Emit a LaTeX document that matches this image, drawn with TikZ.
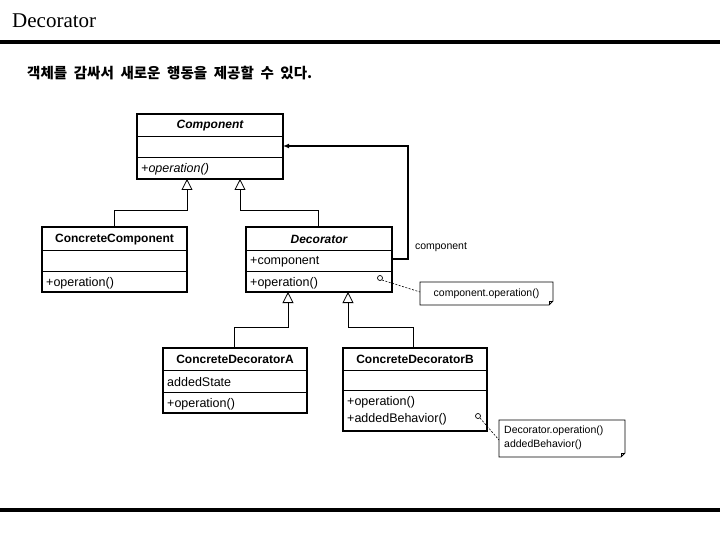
\documentclass[tikz,border=0pt]{standalone}
\usepackage{fontspec}
\setmainfont{Liberation Sans}
\newfontfamily\krfont{Noto Sans CJK KR}
\newfontfamily\titlefont{Liberation Serif}
\usetikzlibrary{arrows.meta}
\begin{document}
\begin{tikzpicture}[x=1pt,y=-1pt,
  classbox/.style={draw, line width=2pt, inner sep=0pt, outer sep=0pt},
  divider/.style={line width=0.8pt},
  cname/.style={font=\fontsize{12}{14}\selectfont\bfseries, inner sep=0pt},
  member/.style={font=\fontsize{12.5}{14}\selectfont, anchor=west, inner sep=0pt},
  notetext/.style={font=\fontsize{10.5}{13.5}\selectfont, inner sep=0pt, align=left},
  notebox/.style={line width=0.8pt},
  inherit/.style={line width=0.8pt, -{Triangle[open, length=11pt, width=11pt, line width=0.8pt]}},
  assoc/.style={line width=1.6pt, -{Latex[length=6pt, width=5pt]}},
  noteline/.style={line width=0.6pt, dash pattern=on 2pt off 1.5pt},
  pin/.style={draw, circle, line width=0.7pt, inner sep=0pt, minimum size=5pt}
]
\useasboundingbox (0,0) rectangle (720,540);
% title and rules
\node[anchor=west, inner sep=0pt, font=\titlefont\fontsize{21}{24}\selectfont] (title) at (12,21) {Decorator};
\draw[line width=4pt] (0,42) -- (720,42);
\draw[line width=4pt] (0,510) -- (720,510);
\node[anchor=west, inner sep=0pt, font=\krfont\bfseries\fontsize{14.5}{17}\selectfont] (subtitle) at (27,73) {객체를\ \ 감싸서\ \ 새로운\ \ 행동을\ \ 제공할\ \ 수\ \ 있다.};

% Component
\node[classbox, minimum width=146pt, minimum height=65pt] (comp) at (210,146.5) {};
\draw[divider] (137,136) -- (283,136);
\draw[divider] (137,157) -- (283,157);
\node[cname, font=\fontsize{12}{14}\selectfont\bfseries\itshape] (compname) at (210,126) {Component};
\node[member, font=\fontsize{12.5}{14}\selectfont\itshape] (compop) at (141,169) {+operation()};

% ConcreteComponent
\node[classbox, minimum width=145pt, minimum height=65pt] (cc) at (114.5,259.5) {};
\draw[divider] (42,250) -- (187,250);
\draw[divider] (42,271) -- (187,271);
\node[cname] (ccname) at (114.5,239.5) {ConcreteComponent};
\node[member] (ccop) at (46,283) {+operation()};

% Decorator
\node[classbox, minimum width=146pt, minimum height=65pt] (dec) at (319,259.5) {};
\draw[divider] (246,250) -- (392,250);
\draw[divider] (246,271) -- (392,271);
\node[cname, font=\fontsize{12}{14}\selectfont\bfseries\itshape] (decname) at (319,239.5) {Decorator};
\node[member] (decattr) at (250,262) {+component};
\node[member] (decop) at (250,283) {+operation()};

% ConcreteDecoratorA
\node[classbox, minimum width=144pt, minimum height=65pt] (cda) at (235,380.5) {};
\draw[divider] (163,370) -- (307,370);
\draw[divider] (163,392) -- (307,392);
\node[cname] (cdaname) at (235,359.5) {ConcreteDecoratorA};
\node[member] (cdaattr) at (167,382) {addedState};
\node[member] (cdaop) at (167,404) {+operation()};

% ConcreteDecoratorB
\node[classbox, minimum width=144pt, minimum height=83pt] (cdb) at (415,389.5) {};
\draw[divider] (343,370) -- (487,370);
\draw[divider] (343,390) -- (487,390);
\node[cname] (cdbname) at (415,359.5) {ConcreteDecoratorB};
\node[member] (cdbop1) at (347,402) {+operation()};
\node[member] (cdbop2) at (347,419) {+addedBehavior()};

% inheritance connectors
\coordinate (t1) at (187,179);
\coordinate (t2) at (240,179);
\coordinate (t3) at (288,292);
\coordinate (t4) at (348,292);
\draw[inherit] (114,227) |- (187,210) -- (t1);
\draw[inherit] (318,227) |- (240,210) -- (t2);
\draw[inherit] (234,348) |- (288,327) -- (t3);
\draw[inherit] (413,348) |- (348,327) -- (t4);

% association
\coordinate (a1) at (392,259);
\coordinate (a2) at (283,146);
\draw[assoc] (a1) -- (408,259) -- (408,146) -- (a2);
\node[font=\fontsize{10.5}{12}\selectfont, inner sep=0pt] (assoclabel) at (441,247) {component};

% note 1
\node[notetext, minimum width=133pt, minimum height=23pt, align=center] (note1) at (486.5,294) {component.operation()};
\draw[notebox] (420,282) -- (553,282) -- (553,301) -- (549,305) -- (420,305) -- cycle;
\draw[notebox] (549,305) -- (549,301) -- (553,301);
\node[pin] (pin1) at (380,278) {};
\draw[noteline] (pin1.south east) -- (420,292);

% note 2
\node[notetext, anchor=north west] (note2) at (504,426) {Decorator.operation()\\addedBehavior()};
\draw[notebox] (499,420) -- (625,420) -- (625,453) -- (621,457) -- (499,457) -- cycle;
\draw[notebox] (621,457) -- (621,453) -- (625,453);
\node[pin] (pin2) at (478,416) {};
\draw[noteline] (pin2.south east) -- (499,440);
\end{tikzpicture}
\end{document}
